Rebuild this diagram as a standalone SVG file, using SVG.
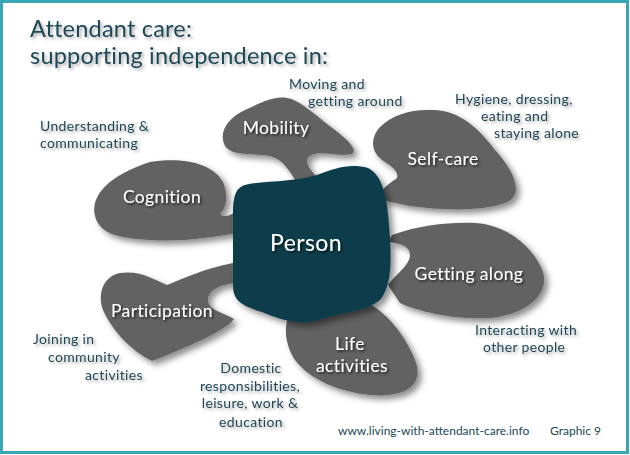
<svg xmlns="http://www.w3.org/2000/svg" width="630" height="455" viewBox="0 0 630 455">
<defs>
<filter id="sh" x="-20%" y="-20%" width="150%" height="150%">
<feDropShadow dx="4" dy="4" stdDeviation="3" flood-color="#000" flood-opacity="0.45"/>
</filter>
<filter id="tsw" x="-10%" y="-30%" width="130%" height="170%">
<feDropShadow dx="1.5" dy="1.5" stdDeviation="1" flood-color="#000" flood-opacity="0.7"/>
</filter>
<filter id="tsd" x="-10%" y="-30%" width="130%" height="170%">
<feDropShadow dx="2" dy="2" stdDeviation="1.5" flood-color="#666" flood-opacity="0.55"/>
</filter>
</defs>
<style>
.blob{fill:#626262;filter:url(#sh)}
.person{fill:#0d3e4c;filter:url(#sh)}
.nl{font-family:Lato,"Liberation Sans",sans-serif;font-size:17.5px;letter-spacing:0.4px;fill:#fff;text-anchor:middle;filter:url(#tsw)}
.dl{font-family:Lato,"Liberation Sans",sans-serif;font-size:14px;letter-spacing:0.35px;fill:#1b4858;filter:url(#tsd)}
.title{font-family:Lato,"Liberation Sans",sans-serif;font-size:23.5px;letter-spacing:0.2px;fill:#1b4858;filter:url(#tsd)}
.foot{font-family:Lato,"Liberation Sans",sans-serif;font-size:12px;fill:#1b4858}
</style>
<rect x="0" y="0" width="630" height="455" fill="#fff"/>
<rect x="1.5" y="1.5" width="626" height="451" fill="none" stroke="#38a6b6" stroke-width="3"/>

<g id="title">
<text class="title" x="30" y="37">Attendant care:</text>
<text class="title" x="30" y="64">supporting independence in:</text>
</g>

<g id="connectors"></g>

<g id="mobility">
<path class="blob" d="M287,98 C300,100 315,115 335,130 C348,140 358,150 352,154 C340,157 320,150 311,155 C303,160 308,168 318,178 L300,188 C292,175 285,160 270,156 C250,153 232,156 225,146 C218,132 228,118 245,110 C262,102 275,96 287,98 Z"/>
<text class="nl" x="276" y="134">Mobility</text>
<text class="dl" x="289" y="89">Moving and</text>
<text class="dl" x="308" y="106">getting around</text>
</g>

<g id="self-care">
<path class="blob" d="M433,110 C460,110 480,130 495,150 C515,172 525,195 505,203 C480,212 440,210 410,206 L382,200 C378,192 385,186 396,179 C400,175 395,168 385,162 C370,153 370,138 380,127 C392,115 410,109 433,110 Z"/>
<text class="nl" x="443" y="165">Self-care</text>
<text class="dl" x="455" y="104">Hygiene, dressing,</text>
<text class="dl" x="481" y="121">eating and</text>
<text class="dl" x="494" y="138">staying alone</text>
</g>

<g id="cognition">
<path class="blob" d="M150,162 C180,157 212,162 223,182 C229,197 226,208 220,214 C225,219 232,214 242,209 L242,232 C210,238 180,242 150,240 C120,238 100,235 95,216 C90,195 110,175 150,162 Z"/>
<text class="nl" x="162" y="203">Cognition</text>
<text class="dl" x="40" y="131">Understanding &amp;</text>
<text class="dl" x="40" y="148">communicating</text>
</g>

<g id="participation">
<path class="blob" d="M120,273 C140,270 155,280 167,285 C185,278 205,268 238,262 L238,283 C220,284 208,290 208,300 C208,310 222,312 234,319 C225,331 190,346 152,361 C130,350 112,330 103,310 C97,293 104,276 120,273 Z"/>
<text class="nl" x="162" y="317">Participation</text>
<text class="dl" x="33" y="344">Joining in</text>
<text class="dl" x="48" y="362">community</text>
<text class="dl" x="85" y="380">activities</text>
</g>

<g id="life-activities">
<path class="blob" d="M290,315 C300,305 340,300 365,302 C385,310 405,335 415,360 C425,385 405,398 370,395 C340,392 310,380 295,360 C285,345 283,325 290,315 Z"/>
<text class="nl" x="350" y="350">Life</text>
<text class="nl" x="352" y="372">activities</text>
<text class="dl" x="251" y="373" text-anchor="middle">Domestic</text>
<text class="dl" x="250" y="391" text-anchor="middle">responsibilities,</text>
<text class="dl" x="250" y="408" text-anchor="middle">leisure, work &amp;</text>
<text class="dl" x="251" y="427" text-anchor="middle">education</text>
</g>

<g id="getting-along">
<path class="blob" d="M392,235 C420,225 450,222 475,223 C510,225 535,250 543,272 C550,295 525,315 490,318 C455,320 420,312 400,303 L388,285 C395,275 410,265 410,255 C410,246 400,243 388,242 Z"/>
<text class="nl" x="469" y="280">Getting along</text>
<text class="dl" x="475" y="335">Interacting with</text>
<text class="dl" x="483" y="352">other people</text>
</g>

<g id="person">
<path class="person" d="M245,185 C265,180 290,183 317,175 C335,168 350,163 368,168 C382,175 387,195 389,225 C392,260 392,285 380,300 C365,312 345,312 325,318 C305,326 285,322 262,312 C240,305 233,300 233,285 L233,215 C233,195 236,188 245,185 Z"/>
<text class="nl" x="306" y="251" style="font-size:23px">Person</text>
</g>

<g id="footer">
<text class="foot" x="338" y="435">www.living-with-attendant-care.info</text>
<text class="foot" x="550" y="435">Graphic 9</text>
</g>
</svg>
